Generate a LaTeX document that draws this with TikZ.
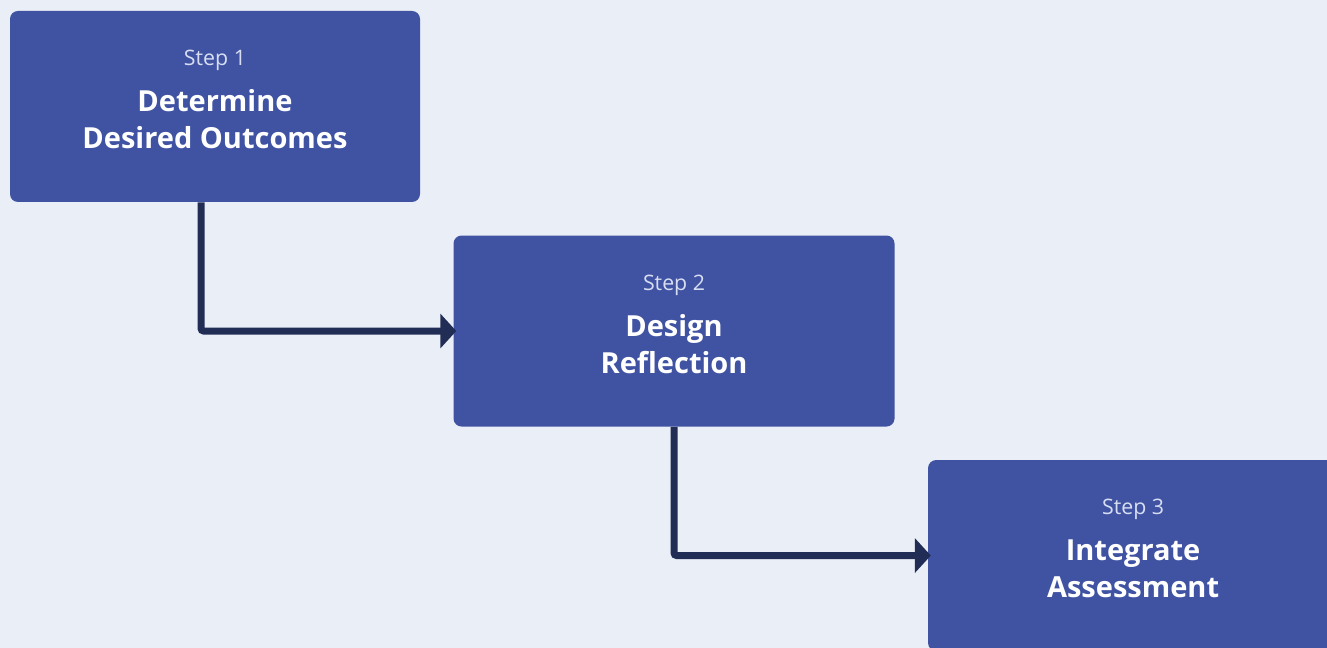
\documentclass[tikz,border=0pt]{standalone}
\usepackage{fontspec}
\setmainfont{Open Sans}
\usetikzlibrary{positioning, arrows.meta}
\definecolor{bgcol}{HTML}{EAEEF6}
\definecolor{boxcol}{HTML}{4053A3}
\definecolor{linkcol}{HTML}{212D55}
\definecolor{stepcol}{HTML}{D8DEF2}
\newcommand{\steplabel}[1]{{\mdseries\fontsize{16}{20}\selectfont\color{stepcol}Step #1}\\[6.75pt]}

\begin{document}
\begin{tikzpicture}[x=0.75pt, y=0.75pt,
  stepbox/.style={fill=boxcol, rounded corners=6pt, minimum height=143.25pt, inner sep=0pt,
    text depth=10.5pt, text=white, align=center, font=\bfseries\fontsize{21.75}{27.75}\selectfont},
  link/.style={draw=linkcol, line width=5.25pt, rounded corners=2pt, shorten >=-2.25pt,
    -{Triangle[length=12pt, width=25.5pt]}}]
  \fill[bgcol] (0,0) rectangle (1327,648);
  \useasboundingbox (0,0) rectangle (1327,648);

  \node[stepbox, minimum width=307.5pt]  (S1) at (215,541.5) {\steplabel{1}Determine\\Desired Outcomes};
  \node[stepbox, minimum width=330.75pt, below right=24.75pt and 24.75pt of S1] (S2) {\steplabel{2}Design\\Reflection};
  \node[stepbox, minimum width=307.5pt, below right=24.75pt and 24.75pt of S2] (S3) {\steplabel{3}Integrate\\Assessment};

  \coordinate (T1) at ([xshift=-10.5pt]S1.south);
  \draw[link] (T1) |- (S2.west);
  \draw[link] (S2.south) |- (S3.west);
\end{tikzpicture}
\end{document}
